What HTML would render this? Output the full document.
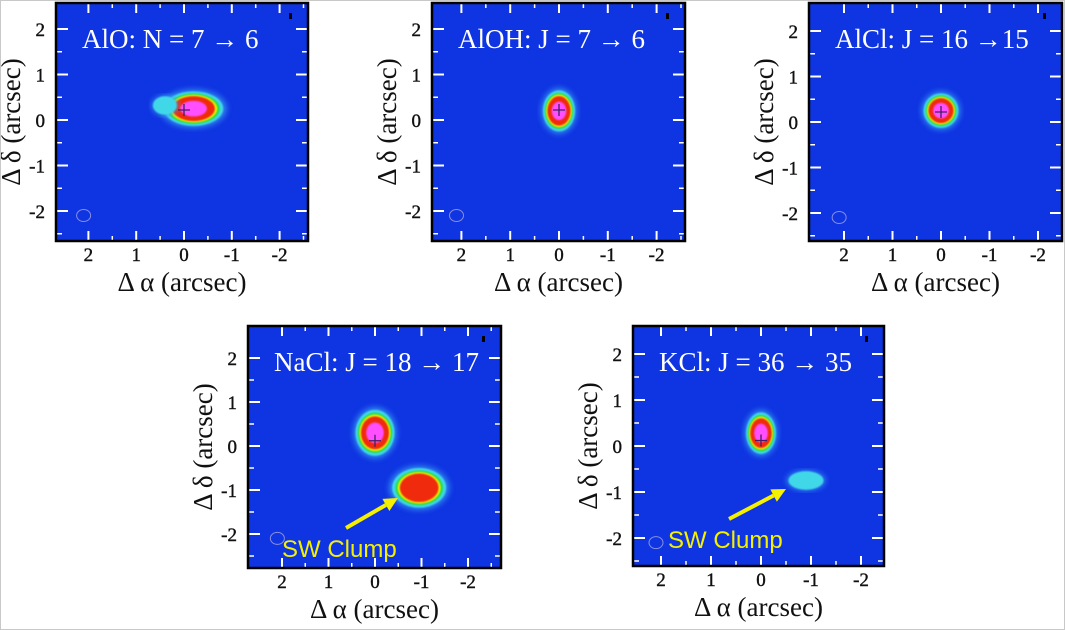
<!DOCTYPE html>
<html><head><meta charset="utf-8"><style>
html,body{margin:0;padding:0;background:#fff;}
#fig{position:relative;width:1063px;height:628px;border:1px solid #c8c8c8;overflow:hidden;}
svg text{font-family:"Liberation Serif",serif;}
</style></head><body>
<div id="fig">
<svg id="svg" width="1065" height="630" xmlns="http://www.w3.org/2000/svg">
<defs><filter id="soft"><feGaussianBlur stdDeviation="0.8"/></filter>
<filter id="halo"><feGaussianBlur stdDeviation="3"/></filter></defs>
</svg>
</div>
<script>
// data
const panelTitles = ["AlO:  N = 7 \u2192 6","AlOH: J = 7 \u2192 6","AlCl: J = 16 \u219215","NaCl: J = 18 \u2192 17","KCl: J = 36 \u2192 35"];
const tickValues = [2,1,0,-1,-2];
const tickLabels = ["2","1","0","-1","-2"];
// blobs: [dRA, dDec, rx, ry, peakLevel] in arcsec
const blobsAlO = [[-0.2,0.25,0.62,0.38,5],[0.4,0.32,0.25,0.2,1]];
const blobsAlOH = [[0,0.2,0.33,0.45,5]];
const blobsAlCl = [[0,0.25,0.36,0.38,5]];
const blobsNaCl = [[0,0.3,0.42,0.52,5],[-0.95,-0.95,0.58,0.45,4]];
const blobsKCl = [[0,0.28,0.3,0.45,5],[-0.9,-0.75,0.35,0.2,1]];
const levelScale = [1,0.88,0.8,0.72,0.45];
const levelColors = ["#40d8e8","#22dd44","#f0f000","#f02a10","#ff50ff"];
const panels = [
 {x0:55,x1:307,y0:2,y1:240,xc:183,xs:47.8,yc:119,ys:45.5,blobs:blobsAlO},
 {x0:431,x1:684,y0:2,y1:240,xc:558,xs:48.8,yc:119,ys:45.5,blobs:blobsAlOH},
 {x0:808,x1:1061,y0:2,y1:240,xc:940,xs:48.5,yc:121,ys:45.5,blobs:blobsAlCl},
 {x0:247,x1:500,y0:325,y1:567,xc:374,xs:46.5,yc:445,ys:44,blobs:blobsNaCl},
 {x0:632,x1:883,y0:325,y1:565,xc:760,xs:50,yc:445,ys:46,blobs:blobsKCl}
];
const svg=document.getElementById('svg');
const NS="http://www.w3.org/2000/svg";
function mk(tag,attrs,parent){const e=document.createElementNS(NS,tag);for(const k in attrs)e.setAttribute(k,attrs[k]);(parent||svg).appendChild(e);return e;}
panels.forEach((p,i)=>{
 const g=mk('g',{});
 
 
 const X=v=>p.xc-v*p.xs, Y=v=>p.yc-v*p.ys;
 const bg=mk('rect',{x:p.x0,y:p.y0,width:p.x1-p.x0,height:p.y1-p.y0,fill:'#0f34e2'},g);
 
 
 const clipId='c'+i;
 const cp=mk('clipPath',{id:clipId},g);mk('rect',{x:p.x0,y:p.y0,width:p.x1-p.x0,height:p.y1-p.y0},cp);
 const mg=mk('g',{'clip-path':'url(#'+clipId+')'},g);
 p.blobs.forEach((b,bi)=>{
  const halo=mk('ellipse',{cx:X(b[0]),cy:Y(b[1]),rx:b[2]*p.xs*1.12,ry:b[3]*p.ys*1.12,fill:'#38a0f0',opacity:0.75,filter:'url(#halo)'},mg);
  
  
  for(let l=0;l<b[4];l++){
   const e=mk('ellipse',{cx:X(b[0]),cy:Y(b[1]),rx:b[2]*p.xs*levelScale[l],ry:b[3]*p.ys*levelScale[l],fill:levelColors[l],filter:'url(#soft)'},mg);
   
   
  }
 });
 const cx=X(0),cy=Y(i==3||i==4?0.12:0.22);
 mk('path',{d:`M${cx-6} ${cy}H${cx+6}M${cx} ${cy-6}V${cy+6}`,stroke:'#402060','stroke-width':1.3},g);
 const beam=mk('ellipse',{cx:X(2.1),cy:Y(-2.1),rx:7,ry:6,fill:'none',stroke:'#8890e0','stroke-width':1},g);
 
 
 tickValues.forEach((v,k)=>{
  mk('path',{d:`M${X(v)} ${p.y0}v10M${X(v)} ${p.y1}v-10M${p.x0} ${Y(v)}h12M${p.x1} ${Y(v)}h-12`,stroke:'#fff','stroke-width':2},g);
  const h=v-0.5;
  mk('path',{d:`M${X(h)} ${p.y0}v5M${X(h)} ${p.y1}v-5M${p.x0} ${Y(h)}h6M${p.x1} ${Y(h)}h-6`,stroke:'#fff','stroke-width':1.5},g);
  const tx=mk('text',{x:X(v),y:p.y1+20,'text-anchor':'middle','font-size':19,fill:'#111',stroke:'#111','stroke-width':0.4},g);
  tx.textContent=tickLabels[k];
  
  
  const ty=mk('text',{x:p.x0-11,y:Y(v)+7,'text-anchor':'end','font-size':19,fill:'#111',stroke:'#111','stroke-width':0.4},g);
  ty.textContent=tickLabels[k];
  
  
 });
 mk('rect',{x:p.x0,y:p.y0,width:p.x1-p.x0,height:p.y1-p.y0,fill:'none',stroke:'#000','stroke-width':2.5},g);
 mk('rect',{x:p.x1-19,y:p.y0+10,width:3,height:6,fill:'#000'},g);
 const t=mk('text',{x:p.x0+26,y:p.y0+45,'font-size':27,fill:'#fff'},g);
 t.textContent=panelTitles[i];
 
 
 const xt=mk('text',{x:(p.x0+p.x1)/2,y:p.y1+50,'text-anchor':'middle','font-size':27,fill:'#111'},g);
 xt.textContent='\u0394 \u03b1 (arcsec)';
 
 
 const yx=p.x0-36, yy=(p.y0+p.y1)/2;
 const yt=mk('text',{x:yx,y:yy,'text-anchor':'middle','font-size':27,fill:'#111',transform:`rotate(-90 ${yx} ${yy})`},g);
 yt.textContent='\u0394 \u03b4 (arcsec)';
 
 
});
[[281,556,345,527,397,497],[667,547,728,518,785,488]].forEach(a=>{
 const t=mk('text',{x:a[0],y:a[1],'font-size':24,fill:'#f5f000',style:'font-family:"Liberation Sans",sans-serif'});
 t.textContent='SW Clump';
 
 
 const dx=a[4]-a[2],dy=a[5]-a[3],L=Math.hypot(dx,dy),ux=dx/L,uy=dy/L;
 const bx=a[4]-ux*14,by=a[5]-uy*14;
 mk('line',{x1:a[2],y1:a[3],x2:bx,y2:by,stroke:'#f5f000','stroke-width':4});
 const ar=mk('polygon',{points:`${a[4]},${a[5]} ${bx-uy*7},${by+ux*7} ${bx+uy*7},${by-ux*7}`,fill:'#f5f000'});
 
 
});
</script>
</body></html>
